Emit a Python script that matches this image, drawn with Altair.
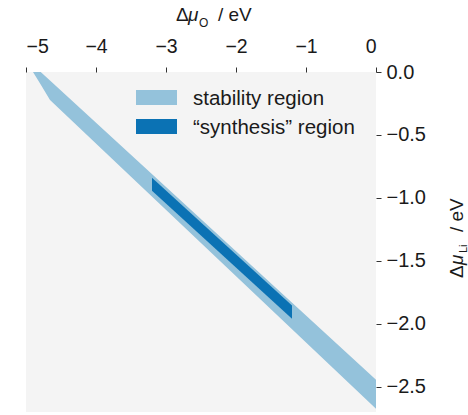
import altair as alt
import pandas as pd

# ---- data ----
# stability region (light band): x = Δμ_O, upper / lower edge = Δμ_Li
band_x = [-4.90, -4.79, -4.657, 0.0]
band_upper = [0.0, 0.0, -0.068, -2.444]
band_lower = [0.0, -0.100, -0.222, -2.675]

# "synthesis" region (dark parallelogram)
syn_x = [-3.20, -1.20]
syn_upper = [-0.839, -1.855]
syn_lower = [-0.944, -1.960]

legend_labels = ["stability region", "\u201csynthesis\u201d region"]
colors = ["#94c2db", "#0b72b4"]

x_ticks = [-5, -4, -3, -2, -1, 0]
y_ticks = [0.0, -0.5, -1.0, -1.5, -2.0, -2.5]
x_domain = [-5, 0]
y_domain = [-2.7, 0]

FONT = "Liberation Sans"
TXT = "#1a1a1a"

band_df = pd.DataFrame({"x": band_x, "upper": band_upper, "lower": band_lower})
syn_df = pd.DataFrame({"x": syn_x, "upper": syn_upper, "lower": syn_lower})

xscale = alt.Scale(domain=x_domain, nice=False, zero=False)
yscale = alt.Scale(domain=y_domain, nice=False, zero=False)

xaxis = alt.Axis(orient="top", values=x_ticks, format="d", title=None, domain=False,
                 grid=False, tickSize=5, tickColor="#333333", labelFont=FONT,
                 labelFontSize=19.5, labelColor=TXT, labelBaseline="alphabetic",
                 labelPadding=15)
yaxis = alt.Axis(orient="right", values=y_ticks, format=".1f", title=None, domain=False,
                 grid=False, tickSize=5, tickColor="#333333", labelFont=FONT,
                 labelFontSize=20, labelColor=TXT, labelPadding=5, labelAlign="left",
                 labelBaseline="middle")

band = alt.Chart(band_df).mark_area(color=colors[0], opacity=1).encode(
    x=alt.X("x:Q", scale=xscale, axis=xaxis),
    y=alt.Y("upper:Q", scale=yscale, axis=yaxis),
    y2="lower:Q",
)
syn = alt.Chart(syn_df).mark_area(color=colors[1], opacity=1).encode(
    x="x:Q", y="upper:Q", y2="lower:Q"
)

layers = [band, syn]

# ---- legend (manual) ----
sw_y = [18, 47]
for lab, col, yy in zip(legend_labels, colors, sw_y):
    d = pd.DataFrame({"t": [lab]})
    layers.append(alt.Chart(d).mark_rect(color=col).encode(
        x=alt.value(110), x2=alt.value(151), y=alt.value(yy), y2=alt.value(yy + 15)))
    layers.append(alt.Chart(d).mark_text(font=FONT, fontSize=20.5, color=TXT,
                                         align="left", baseline="alphabetic").encode(
        x=alt.value(167), y=alt.value(yy + 15), text="t:N"))

# ---- axis titles built from pieces (for italic mu and subscripts) ----
def piece(txt, x, y, size=19, style="normal", angle=0):
    d = pd.DataFrame({"t": [txt]})
    kw = dict(font=FONT, fontSize=size, color=TXT, align="left", baseline="alphabetic",
              fontStyle=style)
    if angle:
        kw["angle"] = angle
    return alt.Chart(d).mark_text(**kw).encode(x=alt.value(x), y=alt.value(y), text="t:N")

# top title: Δμ_O / eV
layers += [
    piece("\u0394", 150, -51),
    piece("\u03bc", 162, -51, style="italic"),
    piece("O", 173, -45, size=12),
    piece("/ eV", 192, -51),
]
# right title: Δμ_Li / eV (rotated, reading bottom to top)
layers += [
    piece("\u0394", 437, 206, angle=270),
    piece("\u03bc", 437, 193, style="italic", angle=270),
    piece("Li", 441, 181, size=11, angle=270),
    piece("/ eV", 437, 160, angle=270),
]

chart = alt.layer(*layers).properties(
    width=350, height=340,
    padding={"left": 26, "top": 72, "right": 92, "bottom": 3},
    autosize=alt.AutoSizeParams(type="none"),
).configure_view(fill="#f4f4f4", stroke=None)

chart.save("out.html", embed_options={"renderer": "svg", "actions": False})
